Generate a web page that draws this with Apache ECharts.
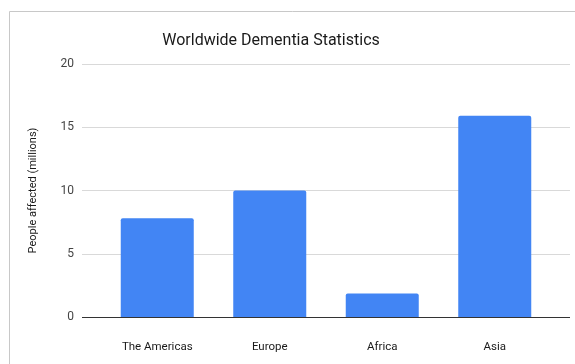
<!DOCTYPE html>
<html>
<head>
<meta charset="utf-8">
<style>
  html, body { margin: 0; padding: 0; background: #fff; }
  #chart { width: 575px; height: 364px; }
</style>
<script src="https://cdn.jsdelivr.net/npm/echarts@6/dist/echarts.min.js"></script>
</head>
<body>
<div id="chart"></div>
<script>
// Regions and estimated number of people living with dementia (millions)
const regions = ['The Americas', 'Europe', 'Africa', 'Asia'];
const peopleAffected = [7.8, 10, 1.85, 15.9];
const yTicks = [0, 5, 10, 15, 20];

const chart = echarts.init(document.getElementById('chart'), null, { renderer: 'canvas' });
const font = 'Roboto, "Liberation Sans", Arial, sans-serif';

chart.setOption({
  backgroundColor: '#ffffff',
  animation: false,
  title: {
    text: 'Worldwide Dementia Statistics',
    left: 266,
    textAlign: 'center',
    top: 28,
    textStyle: { fontFamily: font, fontSize: 16, fontWeight: 'normal', color: '#1a1a1a' }
  },
  // sheet-embedded chart frame
  graphic: [
    { type: 'line', shape: { x1: 9.5, y1: 11.5, x2: 575, y2: 11.5 }, style: { stroke: '#c8c8c8', lineWidth: 1 } },
    { type: 'line', shape: { x1: 9.5, y1: 11.5, x2: 9.5, y2: 364 }, style: { stroke: '#c8c8c8', lineWidth: 1 } }
  ],
  grid: [
    // wide grid carrying the value axis and gridlines
    { left: 82, right: 5, top: 64, bottom: 47 },
    // inner grid holding the category axis and bars
    { left: 101, right: 24, top: 64, bottom: 47 }
  ],
  xAxis: [
    { gridIndex: 0, type: 'category', data: regions, show: false },
    {
      gridIndex: 1, type: 'category', data: regions,
      axisLine: { show: false },
      axisTick: { show: false },
      axisLabel: { fontFamily: font, fontSize: 11.5, color: '#1a1a1a', margin: 24 }
    }
  ],
  yAxis: [
    {
      gridIndex: 0, type: 'value', min: yTicks[0], max: yTicks[yTicks.length - 1], interval: 5,
      name: 'People affected (millions)',
      nameLocation: 'middle',
      nameGap: 43,
      nameTextStyle: { fontFamily: font, fontSize: 11, color: '#1a1a1a' },
      axisLine: { show: false },
      axisTick: { show: false },
      axisLabel: { fontFamily: font, fontSize: 12, color: '#444', margin: 8 },
      splitLine: { lineStyle: { color: '#d9d9d9', width: 1 } }
    },
    {
      gridIndex: 1, type: 'value', min: yTicks[0], max: yTicks[yTicks.length - 1], interval: 5,
      show: false
    }
  ],
  series: [
    {
      type: 'bar',
      xAxisIndex: 1,
      yAxisIndex: 1,
      data: peopleAffected,
      barWidth: 73,
      itemStyle: { color: '#4285f4', borderRadius: [2, 2, 0, 0] },
      z: 3
    },
    {
      // baseline at zero across the full plot width
      type: 'line',
      xAxisIndex: 0,
      yAxisIndex: 0,
      data: [],
      markLine: {
        silent: true,
        symbol: 'none',
        label: { show: false },
        lineStyle: { color: '#333', width: 1, type: 'solid' },
        data: [{ yAxis: yTicks[0] }]
      },
      z: 4
    }
  ]
});
</script>
</body>
</html>
